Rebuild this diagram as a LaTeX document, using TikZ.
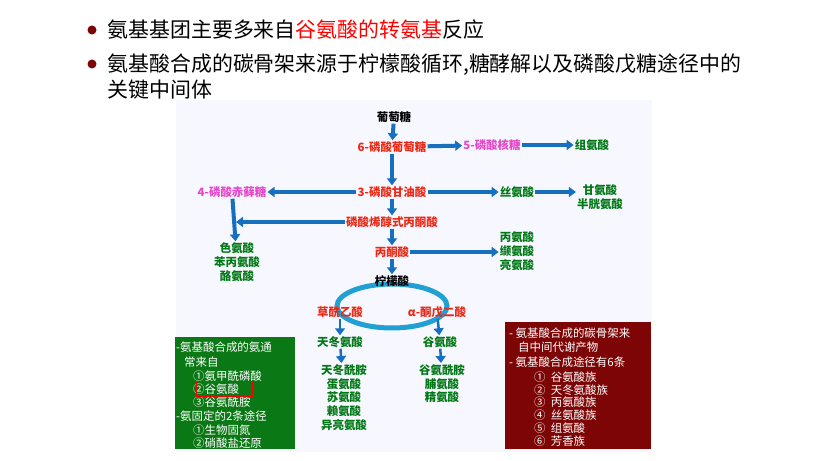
\documentclass[tikz,border=0pt]{standalone}
\usepackage{fontspec}
\setmainfont{Noto Sans CJK SC}
\usetikzlibrary{arrows.meta}
\definecolor{darkgrn}{RGB}{0,120,20}
\definecolor{boxgrn}{RGB}{10,120,20}
\definecolor{boxred}{RGB}{125,5,5}
\definecolor{txtred}{RGB}{235,40,20}
\definecolor{txtpink}{RGB}{230,70,200}
\tikzset{
  lbl/.style={font=\fontsize{11.5}{14}\selectfont\bfseries, inner sep=1pt},
  met/.style={lbl, text=txtred},
  pink/.style={lbl, text=txtpink},
  aa/.style={lbl, text=darkgrn, align=center},
  flow/.style={line width=4bp, draw=cyan!50!blue, -{Triangle[length=7bp,width=10bp]}},
  boxtxt/.style={font=\fontsize{11.5}{13}\selectfont, text=white, anchor=west, inner sep=0pt}
}
\begin{document}
\begin{tikzpicture}[x=1bp,y=-1bp]

\useasboundingbox (0,0) rectangle (820,461);
\fill[white] (0,0) rectangle (820,461);

% bullets
\fill[boxred] (92,30) circle (4.5);
\fill[boxred] (92,64) circle (4.5);
\node[anchor=west, font=\fontsize{21}{24}\selectfont] (t1) at (104,30)
  {氨基基团主要多来自\textcolor{red}{谷氨酸的转氨基}反应};
\node[anchor=north west, align=left, font=\fontsize{21}{26}\selectfont] (t2) at (104,50)
  {氨基酸合成的碳骨架来源于柠檬酸循环,糖酵解以及磷酸戊糖途径中的\\关键中间体};

% diagram background
\fill[blue!3] (176,100) rectangle (652,452);

% cycle
\draw[line width=5bp, cyan!70!teal] (392,306) ellipse (55 and 22);

\node[lbl] (glc) at (394,117) {葡萄糖};
\node[met] (g6p) at (392,147) {6-磷酸葡萄糖};
\node[pink] (r5p) at (492,145) {5-磷酸核糖};
\node[aa] (his) at (592,145) {组氨酸};
\node[met] (pga) at (392,192) {3-磷酸甘油酸};
\node[pink] (e4p) at (232,192) {4-磷酸赤藓糖};
\node[aa] (ser) at (517,192) {丝氨酸};
\node[aa] (gly) at (600,197) {甘氨酸\\半胱氨酸};
\node[met] (pep) at (392,222) {磷酸烯醇式丙酮酸};
\node[aa] (aro) at (237,262) {色氨酸\\苯丙氨酸\\酪氨酸};
\node[met] (pyr) at (392,252) {丙酮酸};
\node[aa] (ala) at (517,251) {丙氨酸\\缬氨酸\\亮氨酸};
\node[lbl] (cit) at (392,281) {柠檬酸};

\draw[flow] (glc) -- (g6p);
\draw[flow] (g6p) -- (r5p);
\draw[flow] (r5p) -- (his);
\draw[flow] (g6p) -- (pga);
\draw[flow] (pga) -- (e4p);
\draw[flow] (pga) -- (ser);
\draw[flow] (ser) -- (gly.west |- ser);
\draw[flow] (pga) -- (pep);
\draw[flow] (pep.west) -- (236,222);
\draw[flow] (e4p) -- (aro);
\draw[flow] (pep) -- (pyr);
\draw[flow] (pyr) -- (ala.west |- pyr);
\draw[flow] (pyr) -- (cit);

\node[met] (oaa) at (340,312) {草酰乙酸};
\node[met] (akg) at (437,312) {α-酮戊二酸};
\node[aa] (asp) at (340,342) {天冬氨酸};
\node[aa] (glu) at (440,342) {谷氨酸};
\node[aa, anchor=north] (asplist) at (344,363) {天冬酰胺\\蛋氨酸\\苏氨酸\\赖氨酸\\异亮氨酸};
\node[aa, anchor=north] (glulist) at (442,363) {谷氨酰胺\\脯氨酸\\精氨酸};
\draw[flow, line width=2.5bp] (oaa) -- (asp);
\draw[flow, line width=2.5bp] (akg) -- (glu);
\draw[flow, line width=2.5bp] (asp) -- (asplist);
\draw[flow, line width=2.5bp] (glu) -- (glulist);

% green box
\fill[boxgrn] (175,337) rectangle (295,449);
\node[boxtxt] (g1) at (176,347) {-氨基酸合成的氨通};
\node[boxtxt] (g2) at (184,362) {常来自};
\node[boxtxt] (g3) at (193,376) {①氨甲酰磷酸};
\node[boxtxt] (g4) at (193,389) {②谷氨酸};
\node[boxtxt] (g5) at (193,402) {③谷氨酰胺};
\node[boxtxt] (g6) at (176,416) {-氨固定的2条途径};
\node[boxtxt] (g7) at (193,430) {①生物固氮};
\node[boxtxt] (g8) at (193,443) {②硝酸盐还原};
\node[draw=red, line width=1.2bp, minimum width=56bp, minimum height=15bp, anchor=west, inner sep=0pt] (mark) at (196,389) {};

% red box
\fill[boxred] (505,322) rectangle (651,449);
\node[boxtxt] (r1) at (509,333) {- 氨基酸合成的碳骨架来};
\node[boxtxt] (r2) at (518,347) {自中间代谢产物};
\node[boxtxt] (r3) at (509,362) {- 氨基酸合成途径有6条};
\node[boxtxt] (r4) at (534,377) {①\ \ 谷氨酸族};
\node[boxtxt] (r5) at (534,390) {②\ \ 天冬氨酸族};
\node[boxtxt] (r6) at (534,402) {③\ \ 丙氨酸族};
\node[boxtxt] (r7) at (534,415) {④\ \ 丝氨酸族};
\node[boxtxt] (r8) at (534,428) {⑤\ \ 组氨酸};
\node[boxtxt] (r9) at (534,441) {⑥\ \ 芳香族};

\end{tikzpicture}
\end{document}
